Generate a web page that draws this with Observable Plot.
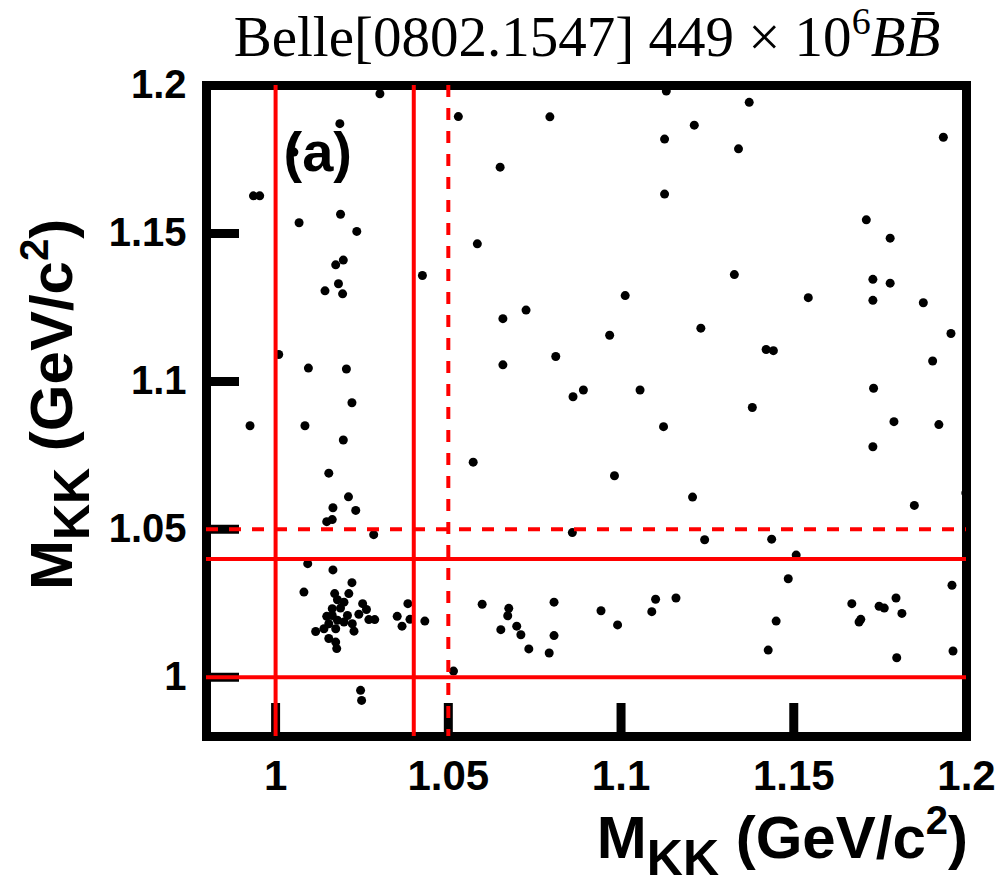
<!DOCTYPE html>
<html>
<head>
<meta charset="utf-8">
<script src="https://cdn.jsdelivr.net/npm/d3@7"></script>
<script src="https://cdn.jsdelivr.net/npm/@observablehq/plot@0.6"></script>
<style>
  html, body { margin: 0; padding: 0; background: #fff; }
  #chart svg { display: block; }
</style>
</head>
<body>
<div id="chart"></div>
<script>
// Candidate events: invariant mass of the first KK pair (x) vs the second (y), GeV/c^2
const massX = [
  1.0302, 1.0529, 1.0186, 1.0053, 0.9936, 0.9954, 1.0068, 1.0188, 1.0235, 1.0196,
  1.0174, 1.0584, 1.0425, 1.0182, 1.0143, 1.0194, 1.0009, 1.0095, 1.0205, 1.0221,
  0.9926, 1.0085, 1.0196, 1.0572, 1.0154, 1.0211, 1.0166, 1.0232, 1.0164, 1.0148,
  1.0284, 1.0093, 1.0166, 1.0221, 1.0082,
  1.0171, 1.0212, 1.0179, 1.0198, 1.0252, 1.0263, 1.0188, 1.0148, 1.0164, 1.0208,
  1.0241, 1.0270, 1.0287, 1.0179, 1.0154, 1.0222, 1.0116, 1.0140, 1.0174, 1.0227,
  1.0154, 1.0174, 1.0177, 1.0198, 1.0164,
  1.0352, 1.0383, 1.0389, 1.0366, 1.0432, 1.0598, 1.0515, 1.0246, 1.0249,
  1.1131, 1.0794, 1.1212, 1.1126, 1.0650, 1.1126, 1.1012, 1.0725, 1.0658, 1.1231,
  1.0967, 1.0811, 1.0658, 1.0891, 1.0861, 1.1055, 1.1123, 1.0981, 1.1207, 1.0859, 1.1242,
  1.0675, 1.0672, 1.0652, 1.0698, 1.0710, 1.0733, 1.0792, 1.0806, 1.0806, 1.0942,
  1.0990, 1.1089, 1.1100, 1.1159,
  1.1371, 1.1340, 1.1933, 1.1710, 1.1779, 1.1328, 1.1729, 1.1779, 1.1542, 1.1729, 1.1875,
  1.1955, 1.1420, 1.1441, 1.1902, 1.1731, 1.1380, 1.1790, 1.1920, 1.1729, 1.1849,
  1.1998, 1.1436,
  1.1507, 1.1484, 1.1958, 1.1668, 1.1796, 1.1747, 1.1762, 1.1813, 1.1694, 1.1689,
  1.1449, 1.1426, 1.1798, 1.1961
];
const massY = [
  1.1972, 1.1895, 1.1871, 1.1775, 1.1627, 1.1627, 1.1536, 1.1565, 1.1507, 1.1410,
  1.1394, 1.1465, 1.1358, 1.1330, 1.1306, 1.1296, 1.1091, 1.1045, 1.1042, 1.0928,
  1.0850, 1.0850, 1.0802, 1.0727, 1.0690, 1.0610, 1.0573, 1.0564, 1.0533, 1.0526,
  1.0482, 1.0384, 1.0363, 1.0320, 1.0288,
  1.0283, 1.0283, 1.0262, 1.0254, 1.0249, 1.0229, 1.0234, 1.0206, 1.0209, 1.0209,
  1.0213, 1.0195, 1.0195, 1.0193, 1.0181, 1.0181, 1.0155, 1.0164, 1.0164, 1.0156,
  1.0131, 1.0119, 1.0097, 1.0187, 1.0232,
  1.0206, 1.0249, 1.0196, 1.0173, 1.0190, 1.0247, 1.0021, 0.9956, 0.9922,
  1.1981, 1.1894, 1.1866, 1.1819, 1.1724, 1.1633, 1.1290, 1.1241, 1.1212, 1.1180,
  1.1156, 1.1084, 1.1056, 1.0971, 1.0948, 1.0971, 1.0847, 1.0681, 1.0609, 1.0489, 1.0465,
  1.0233, 1.0208, 1.0161, 1.0173, 1.0144, 1.0096, 1.0082, 1.0254, 1.0141, 1.0225,
  1.0177, 1.0222, 1.0264, 1.0268,
  1.1943, 1.1786, 1.1825, 1.1546, 1.1484, 1.1361, 1.1345, 1.1332, 1.1283, 1.1274, 1.1266,
  1.1162, 1.1108, 1.1104, 1.1069, 1.0977, 1.0912, 1.0864, 1.0854, 1.0779, 1.0581,
  1.0623, 1.0467,
  1.0413, 1.0333, 1.0311, 1.0249, 1.0268, 1.0240, 1.0234, 1.0216, 1.0196, 1.0187,
  1.0190, 1.0092, 1.0066, 1.0089
];

// Axis ticks
const xTicks = [1, 1.05, 1.1, 1.15, 1.2];
const yTicks = [1, 1.05, 1.1, 1.15, 1.2];

// Selection windows: phi band (solid) and the looser cut (dashed)
const cutSolidX = [1.0, 1.04];
const cutDashedX = [1.05];
const cutSolidY = [1.0, 1.04];
const cutDashedY = [1.05];

const events = massX.map((x, i) => ({x, y: massY[i]}));
const fmt = d3.format("~g");

const width = 1004, height = 891;
const marginLeft = 206, marginRight = 38, marginTop = 85, marginBottom = 155;
const innerW = width - marginLeft - marginRight;
const innerH = height - marginTop - marginBottom;
const tickLen = 33;

const chart = Plot.plot({
  width, height, marginLeft, marginRight, marginTop, marginBottom,
  style: {fontFamily: "'Liberation Sans', Arial, Helvetica, sans-serif", background: "#fff", color: "#000"},
  x: {domain: [0.98, 1.2]},
  y: {domain: [0.98, 1.2]},
  marks: [
    Plot.frame({stroke: "#000", strokeWidth: 9}),
    Plot.ruleX(xTicks, {stroke: "#000", strokeWidth: 9, insetTop: innerH - tickLen}),
    Plot.ruleY(yTicks, {stroke: "#000", strokeWidth: 9, insetRight: innerW - tickLen}),
    Plot.dot(events, {x: "x", y: "y", r: 4.5, fill: "#000", stroke: null}),
    Plot.ruleX(cutSolidX, {stroke: "#ff0000", strokeWidth: 4}),
    Plot.ruleY(cutSolidY, {stroke: "#ff0000", strokeWidth: 4}),
    Plot.ruleX(cutDashedX, {stroke: "#ff0000", strokeWidth: 4, strokeDasharray: "12,11"}),
    Plot.ruleY(cutDashedY, {stroke: "#ff0000", strokeWidth: 4, strokeDasharray: "12,11"}),
    Plot.text(["(a)"], {frameAnchor: "top-left", dx: 77, dy: 85, lineAnchor: "bottom", textAnchor: "start",
      fontSize: 56, fontWeight: "bold", fill: "#000"}),
    Plot.axisX({ticks: xTicks, tickSize: 0, tickPadding: 24, tickFormat: fmt, fontSize: 42,
      fontWeight: "bold", fill: "#000", label: null}),
    Plot.axisY({ticks: yTicks, tickSize: 0, tickPadding: 20, tickFormat: fmt, fontSize: 40,
      fontWeight: "bold", fill: "#000", label: null})
  ]
});

document.getElementById("chart").append(chart);

const svg = d3.select(chart);

// Title
const title = svg.append("text")
  .attr("x", 587).attr("y", 56)
  .attr("text-anchor", "middle")
  .attr("font-family", "'Liberation Serif', 'DejaVu Serif', serif")
  .attr("font-size", 57)
  .attr("fill", "#000");
title.append("tspan").text("Belle[0802.1547] 449 \u00d7 10");
title.append("tspan").attr("font-size", 38).attr("dy", -22).text("6");
title.append("tspan").attr("dy", 22).attr("font-style", "italic").text("B");
title.append("tspan").attr("font-style", "italic").text("B\u0304");

// Axis titles: M_KK (GeV/c^2)
function massLabel(sel) {
  sel.attr("font-family", "'Liberation Sans', Arial, Helvetica, sans-serif")
    .attr("font-weight", "bold").attr("font-size", 60).attr("fill", "#000");
  sel.append("tspan").text("M");
  sel.append("tspan").attr("font-size", 50).attr("dy", 17).text("KK");
  sel.append("tspan").attr("dy", -17).text(" (GeV/c");
  sel.append("tspan").attr("font-size", 40).attr("dy", -24).text("2");
  sel.append("tspan").attr("dy", 24).text(")");
}
svg.append("text").attr("x", 968).attr("y", 858).attr("text-anchor", "end").call(massLabel);
svg.append("text").attr("transform", "translate(72,590) rotate(-90)").attr("text-anchor", "start").call(massLabel);
</script>
</body>
</html>
